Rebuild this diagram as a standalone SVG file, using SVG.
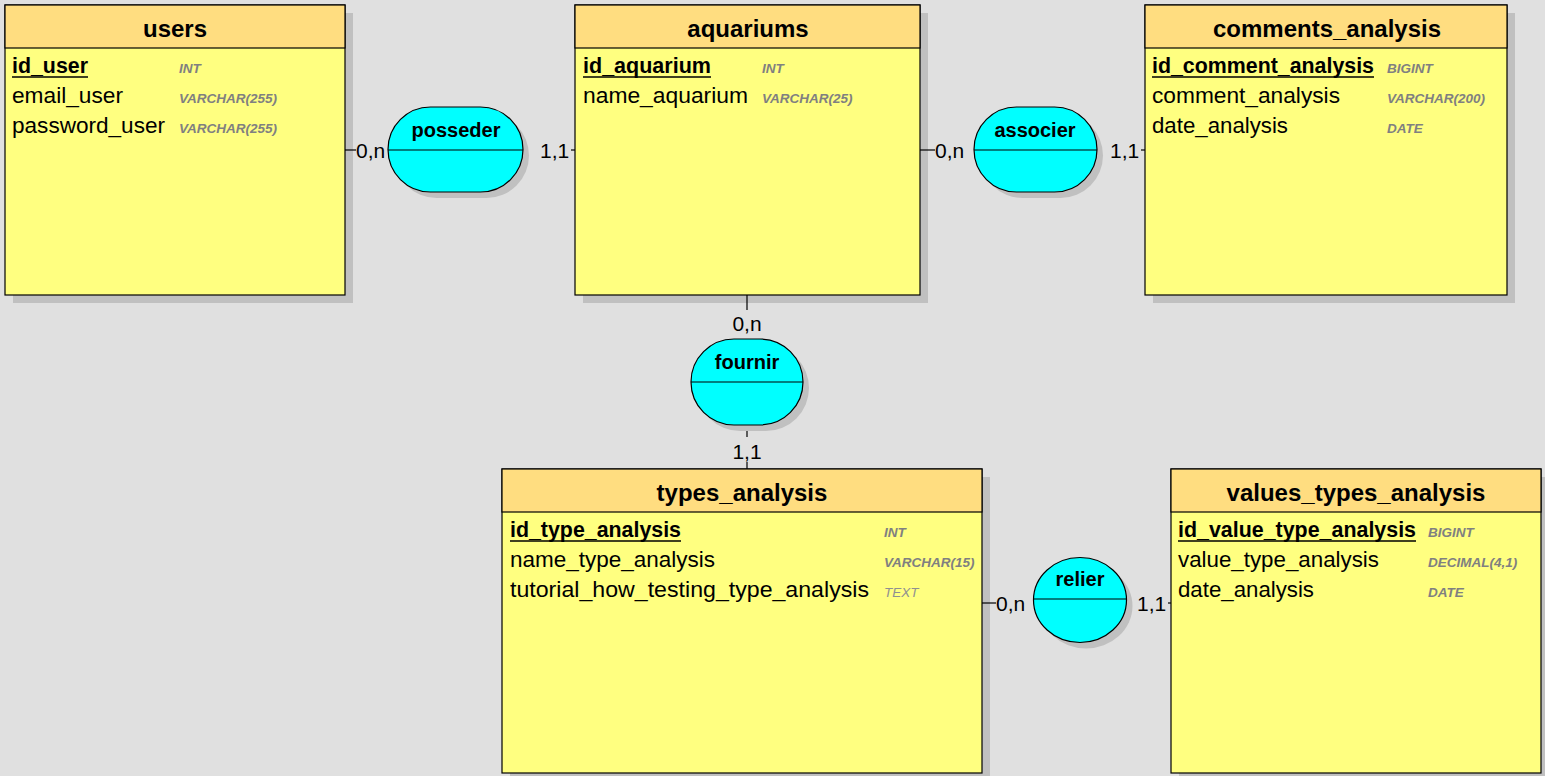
<svg xmlns="http://www.w3.org/2000/svg" width="1545" height="776" viewBox="0 0 1545 776">
  <style>
    .shadow { fill: #c0c0c0; }
    .hdr { fill: #ffdd80; stroke: #000; stroke-width: 1.2; }
    .body { fill: #ffff80; stroke: #000; stroke-width: 1.2; }
    .title { font-family: "Liberation Sans", Arial, sans-serif; font-weight: bold; font-size: 24px; text-anchor: middle; fill: #000; }
    .fld { font-family: "Liberation Sans", Arial, sans-serif; font-size: 22px; fill: #000; }
    .key { font-weight: bold; }
    .uline { stroke: #000; stroke-width: 1.5; }
    .typ { font-family: "Liberation Sans", Arial, sans-serif; font-size: 13.5px; font-style: italic; font-weight: bold; fill: #808080; }
    .typ.light { font-weight: normal; fill: #909090; }
    .rel { fill: #00ffff; stroke: #000; stroke-width: 1.2; }
    .rlbl { font-family: "Liberation Sans", Arial, sans-serif; font-weight: bold; font-size: 20px; text-anchor: middle; fill: #000; }
    .card { font-family: "Liberation Sans", Arial, sans-serif; font-size: 21px; fill: #000; }
    .ln { stroke: #000; stroke-width: 1.2; fill: none; }
  </style>
  <rect x="0" y="0" width="1545" height="776" fill="#e0e0e0"/>

  <!-- entity: users -->
  <g id="users">
    <rect class="shadow" x="13" y="13" width="340" height="290"/>
    <rect class="body" x="5" y="5" width="340" height="290"/>
    <rect class="hdr" x="5" y="5" width="340" height="43"/>
    <text class="title" x="175" y="37">users</text>
    <text class="fld key" x="12" y="73" textLength="76" lengthAdjust="spacingAndGlyphs">id_user</text>
    <line class="uline" x1="12" y1="77" x2="88" y2="77"/>
    <text class="typ" x="179" y="73">INT</text>
    <text class="fld" x="12" y="103" textLength="111" lengthAdjust="spacingAndGlyphs">email_user</text>
    <text class="typ" x="179" y="103">VARCHAR(255)</text>
    <text class="fld" x="12" y="133" textLength="153" lengthAdjust="spacingAndGlyphs">password_user</text>
    <text class="typ" x="179" y="133">VARCHAR(255)</text>
  </g>

  <!-- entity: aquariums -->
  <g id="aquariums">
    <rect class="shadow" x="583" y="13" width="345" height="290"/>
    <rect class="body" x="575" y="5" width="345" height="290"/>
    <rect class="hdr" x="575" y="5" width="345" height="43"/>
    <text class="title" x="748" y="37">aquariums</text>
    <text class="fld key" x="583" y="73" textLength="128" lengthAdjust="spacingAndGlyphs">id_aquarium</text>
    <line class="uline" x1="583" y1="77" x2="711" y2="77"/>
    <text class="typ" x="762" y="73">INT</text>
    <text class="fld" x="583" y="103" textLength="165" lengthAdjust="spacingAndGlyphs">name_aquarium</text>
    <text class="typ" x="762" y="103">VARCHAR(25)</text>
  </g>

  <!-- entity: comments_analysis -->
  <g id="comments_analysis">
    <rect class="shadow" x="1153" y="13" width="362" height="290"/>
    <rect class="body" x="1145" y="5" width="362" height="290"/>
    <rect class="hdr" x="1145" y="5" width="362" height="43"/>
    <text class="title" x="1327" y="37">comments_analysis</text>
    <text class="fld key" x="1152" y="73" textLength="222" lengthAdjust="spacingAndGlyphs">id_comment_analysis</text>
    <line class="uline" x1="1152" y1="77" x2="1374" y2="77"/>
    <text class="typ" x="1387" y="73">BIGINT</text>
    <text class="fld" x="1152" y="103" textLength="188" lengthAdjust="spacingAndGlyphs">comment_analysis</text>
    <text class="typ" x="1387" y="103">VARCHAR(200)</text>
    <text class="fld" x="1152" y="133" textLength="136" lengthAdjust="spacingAndGlyphs">date_analysis</text>
    <text class="typ" x="1387" y="133">DATE</text>
  </g>

  <!-- entity: types_analysis -->
  <g id="types_analysis">
    <rect class="shadow" x="510" y="477" width="480" height="304"/>
    <rect class="body" x="502" y="469" width="480" height="304"/>
    <rect class="hdr" x="502" y="469" width="480" height="43"/>
    <text class="title" x="742" y="501">types_analysis</text>
    <text class="fld key" x="510" y="537" textLength="171" lengthAdjust="spacingAndGlyphs">id_type_analysis</text>
    <line class="uline" x1="510" y1="541" x2="681" y2="541"/>
    <text class="typ" x="884" y="537">INT</text>
    <text class="fld" x="510" y="567" textLength="205" lengthAdjust="spacingAndGlyphs">name_type_analysis</text>
    <text class="typ" x="884" y="567">VARCHAR(15)</text>
    <text class="fld" x="510" y="597" textLength="359" lengthAdjust="spacingAndGlyphs">tutorial_how_testing_type_analysis</text>
    <text class="typ light" x="884" y="597">TEXT</text>
  </g>

  <!-- entity: values_types_analysis -->
  <g id="values_types_analysis">
    <rect class="shadow" x="1179" y="477" width="370" height="304"/>
    <rect class="body" x="1171" y="469" width="370" height="304"/>
    <rect class="hdr" x="1171" y="469" width="370" height="43"/>
    <text class="title" x="1356" y="501">values_types_analysis</text>
    <text class="fld key" x="1178" y="537" textLength="238" lengthAdjust="spacingAndGlyphs">id_value_type_analysis</text>
    <line class="uline" x1="1178" y1="541" x2="1416" y2="541"/>
    <text class="typ" x="1428" y="537">BIGINT</text>
    <text class="fld" x="1178" y="567" textLength="201" lengthAdjust="spacingAndGlyphs">value_type_analysis</text>
    <text class="typ" x="1428" y="567">DECIMAL(4,1)</text>
    <text class="fld" x="1178" y="597" textLength="136" lengthAdjust="spacingAndGlyphs">date_analysis</text>
    <text class="typ" x="1428" y="597">DATE</text>
  </g>

  <!-- links with cardinalities -->
  <g id="connectors">
    <line class="ln" x1="345" y1="150" x2="356" y2="150"/>
    <text class="card" x="356" y="158">0,n</text>
    <line class="ln" x1="571" y1="150" x2="575" y2="150"/>
    <text class="card" x="540" y="158">1,1</text>

    <line class="ln" x1="920" y1="150" x2="935" y2="150"/>
    <text class="card" x="935" y="158">0,n</text>
    <line class="ln" x1="1141" y1="150" x2="1145" y2="150"/>
    <text class="card" x="1110" y="158">1,1</text>

    <line class="ln" x1="747" y1="295" x2="747" y2="310"/>
    <text class="card" x="747" y="331" text-anchor="middle">0,n</text>
    <line class="ln" x1="747" y1="424" x2="747" y2="437"/>
    <text class="card" x="747" y="459" text-anchor="middle">1,1</text>
    <line class="ln" x1="747" y1="462" x2="747" y2="469"/>

    <line class="ln" x1="982" y1="603" x2="996" y2="603"/>
    <text class="card" x="996" y="611">0,n</text>
    <line class="ln" x1="1168" y1="603" x2="1171" y2="603"/>
    <text class="card" x="1137" y="611">1,1</text>
  </g>

  <!-- association: posseder -->
  <g id="posseder">
    <rect class="shadow" x="394" y="113" width="135" height="85" rx="42.5"/>
    <rect class="rel" x="388" y="107" width="135" height="85" rx="42.5"/>
    <line class="ln" x1="388" y1="150" x2="523" y2="150"/>
    <text class="rlbl" x="456" y="137">posseder</text>
  </g>

  <!-- association: associer -->
  <g id="associer">
    <rect class="shadow" x="980" y="113" width="123" height="85" rx="42.5"/>
    <rect class="rel" x="974" y="107" width="123" height="85" rx="42.5"/>
    <line class="ln" x1="974" y1="150" x2="1097" y2="150"/>
    <text class="rlbl" x="1035" y="137">associer</text>
  </g>

  <!-- association: fournir -->
  <g id="fournir">
    <rect class="shadow" x="697" y="345" width="112" height="86" rx="43"/>
    <rect class="rel" x="691" y="339" width="112" height="86" rx="43"/>
    <line class="ln" x1="691" y1="382" x2="803" y2="382"/>
    <text class="rlbl" x="747" y="369">fournir</text>
  </g>

  <!-- association: relier -->
  <g id="relier">
    <ellipse class="shadow" cx="1086" cy="606" rx="46.5" ry="42.5"/>
    <ellipse class="rel" cx="1080" cy="600" rx="46.5" ry="42.5"/>
    <line class="ln" x1="1033" y1="599" x2="1127" y2="599"/>
    <text class="rlbl" x="1080" y="586">relier</text>
  </g>
</svg>
